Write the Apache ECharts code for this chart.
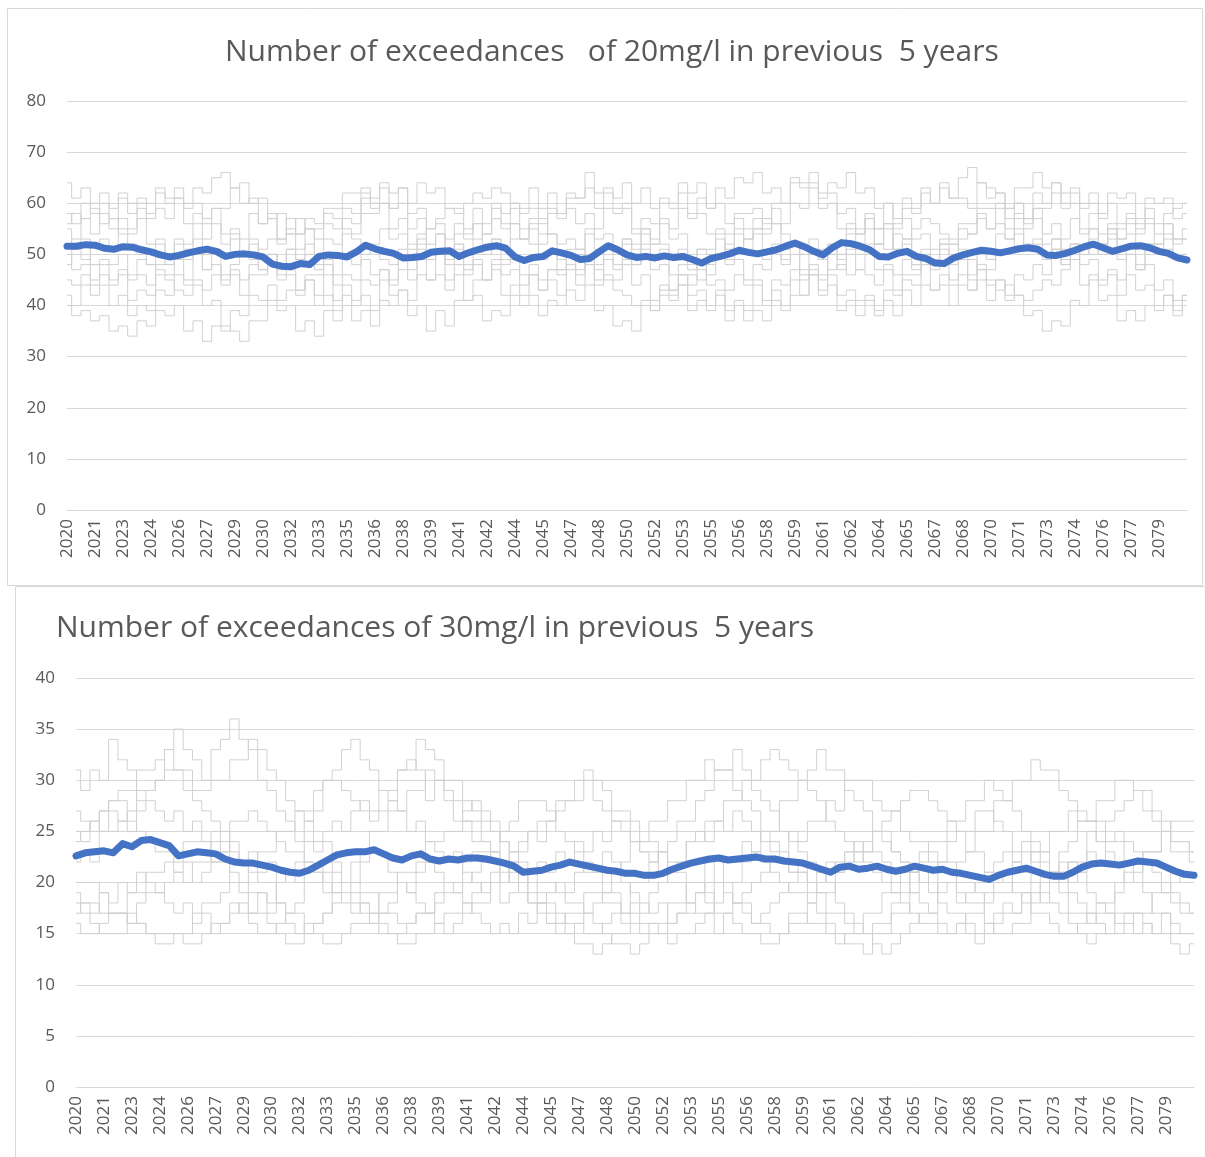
<!DOCTYPE html>
<html>
<head>
<meta charset="utf-8">
<script src="https://cdn.jsdelivr.net/npm/echarts@6/dist/echarts.min.js"></script>
<style>
html,body{margin:0;padding:0;background:#fff;}
#chart{width:1205px;height:1157px;}
</style>
</head>
<body>
<div id="chart"></div>
<script>
// ---------- tick labels (shared by both panels) ----------
const yearTicks = ['2020','2021','2023','2024','2026','2027','2029','2030','2032','2033','2035','2036','2038','2039','2041','2042','2044','2045','2047','2048','2050','2052','2053','2055','2056','2058','2059','2061','2062','2064','2065','2067','2068','2070','2071','2073','2074','2076','2077','2079'];
const pointsPerTick = 3;

// ---------- top panel: exceedances of 20mg/l ----------
const title20 = 'Number of exceedances   of 20mg/l in previous  5 years';
const mean20 = [51.6,51.6,51.9,51.8,51.2,51.0,51.5,51.4,50.9,50.5, 49.9,49.5,49.8,50.3,50.7,51.0,50.6,49.6,50.0,50.1, 49.9,49.5,48.1,47.7,47.6,48.2,48.0,49.6,49.9,49.8, 49.5,50.5,51.8,51.1,50.6,50.2,49.3,49.4,49.6,50.4, 50.6,50.7,49.6,50.3,50.9,51.4,51.7,51.2,49.5,48.8, 49.4,49.6,50.7,50.3,49.8,49.0,49.2,50.5,51.7,50.9, 49.9,49.4,49.6,49.3,49.7,49.4,49.6,49.0,48.3,49.2, 49.6,50.1,50.8,50.4,50.1,50.5,50.9,51.6,52.2,51.5, 50.6,49.9,51.3,52.3,52.1,51.6,50.9,49.6,49.5,50.2, 50.6,49.6,49.2,48.3,48.2,49.3,49.9,50.4,50.8,50.6, 50.3,50.7,51.1,51.3,51.0,49.9,49.8,50.2,50.8,51.5, 52.0,51.3,50.6,51.1,51.6,51.7,51.3,50.6,50.2,49.3, 48.9];
const run20A = [64,61,63,60,62,59,61,58,60,57, 59,57,61,60,63,62,65,66,63,64, 60,61,57,58,54,57,55,53,56,55, 59,58,62,61,63,59,60,55,57,52, 54,49,52,48,49,45,48,46,47,44, 46,43,45,42,47,44,48,45,49,48, 52,51,54,52,57,55,59,58,61,59, 63,61,65,64,66,62,63,60,65,64, 66,61,62,58,59,55,57,52,55,51, 52,48,51,47,48,45,46,43,45,41, 45,42,46,45,48,46,51,48,52,51, 55,52,56,55,58,56,59,54,56,53, 55];
const run20B = [40,38,39,37,38,35,36,34,37,36, 39,38,40,35,37,33,36,35,39,38, 42,41,44,39,40,35,37,34,39,37, 42,41,45,44,47,45,49,47,51,50, 54,53,56,54,59,56,60,58,59,55, 56,52,54,49,50,47,49,44,46,45, 48,44,46,41,43,42,44,39,41,40, 42,37,40,39,44,41,45,44,47,46, 50,49,52,50,55,54,57,55,60,57, 61,59,62,60,64,61,65,67,64,63, 62,59,60,57,59,54,56,51,52,48, 49,45,46,42,46,43,44,40,42,39, 42];
const run20C = [58,56,60,58,60,55,57,54,59,58, 62,60,61,56,58,53,56,52,53,50, 52,47,50,46,47,43,45,42,46,41, 44,40,42,39,45,44,47,45,49,45, 46,43,48,46,51,50,53,51,56,53, 57,56,59,57,62,61,63,59,62,61, 64,60,63,59,61,59,64,62,64,59, 60,56,57,53,54,49,52,48,50,45, 47,42,44,39,41,38,41,39,41,38, 43,40,44,43,46,44,49,46,50,49, 54,53,58,57,62,60,64,60,62,60, 62,57,60,56,57,54,56,52,56,52, 53];
const run20D = [45,44,46,42,44,40,42,38,40,39, 43,42,46,45,50,47,51,50,54,53, 58,56,58,53,57,54,55,50,53,52, 57,56,61,60,64,62,63,58,59,55, 56,51,52,47,48,45,47,42,44,40, 42,38,41,40,43,41,44,39,40,36, 37,35,40,39,44,43,46,44,49,46, 50,49,54,51,55,54,59,56,60,59, 63,62,64,63,66,62,63,59,60,56, 57,53,54,51,52,48,49,45,48,44, 45,41,42,38,39,35,37,36,41,40, 45,44,47,45,50,47,51,50,53,49, 50];
const run20E = [52,53,57,54,58,57,62,60,61,60, 63,61,63,59,60,57,59,54,55,50, 53,49,50,45,46,43,45,40,42,39, 40,37,39,36,41,40,43,41,46,45, 50,49,54,53,56,54,59,56,60,59, 63,59,62,58,59,56,58,53,54,51, 53,48,51,47,48,43,46,42,43,39, 43,39,41,37,39,37,41,40,45,42, 46,45,50,47,51,50,55,52,56,55, 59,58,63,60,63,61,61,59,64,61, 62,57,60,56,57,52,53,48,49,44, 46,41,42,37,39,37,40,39,42,38, 41];
const run20F = [48,51,49,52,53,51,55,55,57,52, 53,48,49,44,45,40,41,36,35,33, 37,37,41,41,43,42,46,46,50,50, 54,54,58,58,60,59,63,60,64,62, 63,59,59,55,56,52,53,48,49,46, 48,45,47,46,50,50,54,51,52,47, 49,48,52,52,56,53,54,49,51,50, 54,54,58,58,59,55,56,51,52,47, 48,43,46,42,43,41,42,38,43,42, 46,46,48,43,44,40,44,43,47,47, 51,51,55,55,59,59,62,62,63,59, 60,58,62,61,62,57,61,60,61,57, 58];
const run20G = [55,52,53,48,49,45,46,41,43,42, 46,46,50,49,53,50,51,46,47,42, 46,46,48,47,51,51,55,55,59,59, 62,62,63,59,60,55,57,52,54,49, 50,45,46,41,42,37,39,38,42,42, 46,43,47,47,51,51,55,55,59,59, 60,55,57,56,60,60,62,57,58,54, 55,51,55,55,57,56,60,60,64,63, 64,59,60,55,56,51,52,47,48,43, 45,44,48,48,52,52,56,56,59,59, 60,55,57,52,53,49,53,53,57,54, 55,50,53,49,50,48,52,52,54,53, 53];
const run20H = [42,40,44,44,48,48,50,45,46,44, 48,48,52,52,56,56,59,59,63,60, 61,56,57,53,54,49,52,48,49,44, 46,45,49,46,47,42,43,38,40,35, 39,36,41,41,45,45,49,49,53,53, 55,54,58,58,61,61,66,62,63,58, 59,54,55,50,51,46,48,47,51,51, 53,48,49,44,45,40,43,39,42,42, 46,46,50,50,54,54,58,55,56,51, 53,48,50,49,53,53,55,54,58,55, 59,59,63,63,66,63,64,59,60,55, 58,54,55,50,52,47,48,43,45,41, 42];
const run20I = [50,47,48,45,46,44,47,46,49,48, 52,50,53,51,50,47,48,44,46,45, 48,47,50,48,51,49,50,47,48,46, 49,48,51,52,55,53,54,51,52,49, 50,48,51,50,53,54,57,55,56,53, 52,49,50,47,48,46,49,48,51,50, 53,52,55,53,52,50,51,48,47,44, 45,43,46,45,48,47,50,49,52,50, 53,51,52,49,50,47,46,44,47,46, 49,47,50,48,51,50,53,54,57,55, 56,53,54,51,52,50,51,49,52,50, 53,52,55,53,54,51,52,50,51,49, 50];
const run20J = [56,58,57,59,56,57,54,52,50,48, 47,45,43,42,44,43,46,45,48,50, 49,51,53,52,55,54,57,56,58,57, 55,53,50,51,49,48,51,50,53,55, 57,59,58,60,62,61,63,62,60,58, 59,57,54,52,53,51,48,47,45,43, 42,40,41,39,42,41,44,46,45,48, 50,52,51,53,55,57,56,54,52,50, 51,49,47,48,46,47,50,52,51,54, 53,55,57,56,54,52,51,49,47,45, 43,44,42,41,43,45,44,47,49,51, 50,52,54,53,56,55,57,56,58,59, 60];

// ---------- bottom panel: exceedances of 30mg/l ----------
const title30 = 'Number of exceedances of 30mg/l in previous  5 years';
const mean30 = [22.6,22.9,23.0,23.1,22.9,23.8,23.5,24.1,24.2,23.9, 23.6,22.6,22.8,23.0,22.9,22.8,22.3,22.0,21.9,21.9, 21.7,21.5,21.2,21.0,20.9,21.2,21.7,22.2,22.7,22.9, 23.0,23.0,23.2,22.8,22.4,22.2,22.6,22.8,22.3,22.1, 22.3,22.2,22.4,22.4,22.3,22.1,21.9,21.6,21.0,21.1, 21.2,21.5,21.7,22.0,21.8,21.6,21.4,21.2,21.1,20.9, 20.9,20.7,20.7,20.9,21.3,21.6,21.9,22.1,22.3,22.4, 22.2,22.3,22.4,22.5,22.3,22.3,22.1,22.0,21.9,21.6, 21.3,21.0,21.5,21.6,21.3,21.4,21.6,21.3,21.1,21.3, 21.6,21.4,21.2,21.3,21.0,20.9,20.7,20.5,20.3,20.7, 21.0,21.2,21.4,21.1,20.8,20.6,20.6,21.0,21.5,21.8, 21.9,21.8,21.7,21.9,22.1,22.0,21.9,21.5,21.1,20.8, 20.7];
const run30A = [31,29,31,30,34,32,31,28,29,30, 33,35,33,32,30,33,34,36,34,33, 30,29,27,26,24,26,27,30,31,33, 34,32,31,29,29,31,32,31,28,30, 28,26,26,24,24,22,22,20,20,18, 18,16,16,17,17,19,19,18,18,16, 16,15,16,16,18,18,20,20,22,20, 20,18,18,16,16,15,15,17,17,16, 16,15,14,15,15,17,17,19,19,21, 21,23,23,22,22,20,20,19,18,19, 19,21,21,23,23,25,25,27,27,26, 26,24,24,22,22,20,20,19,18,17, 17];
const run30B = [27,26,25,27,28,28,26,25,24,23, 23,21,22,20,21,22,23,21,20,19, 19,17,18,16,15,16,16,17,18,20, 20,22,23,23,21,20,19,18,17,16, 15,16,17,18,18,21,20,22,23,25, 24,26,27,28,28,30,28,27,26,26, 24,23,23,21,20,20,18,17,17,15, 17,18,19,20,21,22,22,25,24,26, 26,28,27,30,30,30,28,27,27,25, 24,24,22,21,21,19,18,18,16,15, 15,16,16,19,18,20,21,22,22,25, 24,26,27,28,29,29,27,26,24,24, 23];
const run30C = [18,17,16,15,15,15,17,16,15,15, 15,15,14,14,15,16,16,18,17,16, 15,15,16,17,18,20,20,22,21,20, 19,18,17,16,15,15,16,17,17,19, 20,20,22,23,23,23,22,21,20,19, 18,17,16,15,14,14,13,14,15,15, 17,17,19,20,22,22,24,24,26,26, 28,28,30,30,32,33,32,31,30,29, 28,26,25,24,23,22,21,20,19,18, 17,16,16,15,15,16,17,17,19,20, 20,22,21,20,19,18,17,16,15,14, 15,15,17,17,17,16,15,15,14,13, 14];
const run30D = [22,23,22,25,25,26,27,29,29,30, 31,31,31,29,29,30,30,32,32,34, 33,31,30,28,27,26,24,24,22,20, 20,19,19,17,17,16,16,17,17,18, 19,19,20,21,22,23,25,26,28,28, 28,27,25,24,23,21,21,19,19,17, 18,16,16,15,14,15,15,16,17,18, 20,20,22,23,25,25,28,28,30,31, 33,31,31,29,28,27,25,25,23,22, 21,20,19,18,17,17,16,15,15,16, 17,17,19,20,20,21,23,24,26,26, 28,28,30,30,29,27,26,25,23,23, 22];
const run30E = [20,20,20,19,17,17,16,16,15,14, 14,15,15,17,18,18,19,20,20,22, 23,23,25,25,27,27,29,30,30,29, 28,27,26,27,28,31,31,34,33,32, 30,30,28,27,26,25,24,22,21,20, 19,18,17,16,16,15,15,16,17,17, 20,20,22,23,24,26,26,28,29,31, 31,33,31,29,28,27,25,24,23,22, 21,20,18,17,16,15,14,13,14,15, 16,17,17,20,20,22,23,25,25,28, 28,30,30,32,31,31,29,28,26,26, 24,23,22,20,20,19,17,17,15,15, 15];
const run30F = [16,15,15,16,17,17,19,19,21,21, 22,22,24,24,24,22,22,20,19,17, 17,16,15,14,14,15,16,17,19,20, 22,23,25,25,27,27,29,29,31,30, 29,28,26,26,24,23,21,20,19,18, 17,16,15,15,16,17,18,19,21,22, 24,24,26,26,28,28,30,30,32,31, 31,29,28,27,25,24,23,21,21,20, 19,17,17,16,15,15,16,16,18,19, 21,22,24,24,26,26,28,28,30,29, 28,27,25,24,23,21,21,19,18,17, 16,15,15,16,17,17,19,19,21,20, 20];
const run30G = [24,25,26,27,28,29,29,31,31,32, 33,31,29,28,27,26,25,23,22,21, 20,20,18,17,17,15,15,14,14,15, 16,16,17,19,19,21,21,22,24,24, 25,25,27,28,27,26,24,23,22,21, 20,20,19,18,18,17,16,15,14,14, 13,14,15,15,16,17,17,19,20,20, 22,22,24,23,22,21,20,19,19,18, 17,16,15,14,14,13,15,15,17,17, 19,20,21,22,24,25,25,27,27,26, 25,23,23,22,20,20,19,17,17,16, 17,17,19,20,21,23,23,25,24,24, 23];
const run30H = [19,18,18,17,17,17,16,18,19,19, 20,21,20,22,22,24,24,26,26,27, 26,25,24,23,23,22,21,21,19,19, 18,17,16,15,15,14,14,15,15,16, 17,17,18,19,20,20,22,23,24,25, 26,26,28,28,30,31,30,29,27,27, 26,24,24,23,21,21,20,20,19,17, 17,16,15,15,14,14,15,16,16,18, 19,19,21,22,23,23,25,26,27,28, 29,29,28,27,26,25,23,23,21,21, 20,19,18,17,17,16,15,15,16,17, 18,18,20,21,22,23,23,25,26,26, 26];
const run30I = [25,24,26,25,27,26,25,27,28,27, 26,27,25,26,24,25,23,24,22,23, 21,22,20,21,22,24,23,25,26,25, 27,28,27,29,28,27,25,26,24,23, 22,23,21,20,19,20,18,19,20,21, 22,21,23,22,24,23,25,24,26,25, 24,23,22,23,21,22,24,25,24,26, 25,27,26,25,24,23,22,21,22,20, 21,22,21,23,24,23,25,24,23,22, 21,20,21,19,20,18,19,20,21,22, 23,22,24,23,22,21,22,20,21,23, 22,24,25,24,23,22,21,20,19,18, 17];
const run30J = [17,18,17,19,18,20,19,21,20,19, 18,17,18,16,17,15,16,17,18,17, 19,18,20,21,20,22,21,19,20,18, 17,18,16,17,18,20,19,21,22,21, 20,19,18,17,16,15,16,15,17,16, 18,19,20,19,21,22,21,23,22,20, 19,18,17,18,16,17,18,19,18,20, 19,18,17,16,17,18,19,20,21,19, 20,21,22,23,22,24,23,22,20,21, 19,18,17,16,15,16,15,14,16,17, 18,17,19,18,20,21,20,22,21,19, 18,17,16,17,15,16,15,17,16,15, 15];

// ---------- build ----------
const categories = [];
yearTicks.forEach(y => { categories.push(y); for (let k = 1; k < pointsPerTick; k++) categories.push(''); });
categories.push('');

const FONT = '"Open Sans", "Noto Sans", sans-serif';
const TXT = '#595959';
const GRID = '#d9d9d9';
const GRAY = '#d0d0d0';
const BLUE = '#4472C4';

function grayLine(data, idx) {
  return { type: 'line', data: data, xAxisIndex: idx, yAxisIndex: idx, showSymbol: false, step: 'middle',
    lineStyle: { color: GRAY, width: 1 }, itemStyle: { color: GRAY }, z: 2, silent: true };
}
function meanLine(data, idx) {
  return { type: 'line', data: data, xAxisIndex: idx, yAxisIndex: idx, showSymbol: false, smooth: false,
    lineStyle: { color: BLUE, width: 7, cap: 'round', join: 'round' }, itemStyle: { color: BLUE }, z: 5, silent: true };
}
function xAxis(idx) {
  return { type: 'category', gridIndex: idx, data: categories, boundaryGap: false,
    axisLine: { show: true, lineStyle: { color: GRID, width: 1 } }, axisTick: { show: false },
    axisLabel: { interval: 0, rotate: 90, color: TXT, fontSize: 17, fontFamily: FONT, margin: 9 },
    splitLine: { show: false } };
}
function yAxis(idx, max, step, margin) {
  return { type: 'value', gridIndex: idx, min: 0, max: max, interval: step,
    axisLine: { show: false }, axisTick: { show: false },
    axisLabel: { color: TXT, fontSize: 17, fontFamily: FONT, margin: margin },
    splitLine: { lineStyle: { color: GRID, width: 1 } } };
}

const chart = echarts.init(document.getElementById('chart'), null, { renderer: 'canvas' });
chart.setOption({
  animation: false,
  backgroundColor: '#fff',
  title: [
    { text: title20, left: 220, top: 32, textStyle: { color: TXT, fontSize: 30, fontWeight: 'normal', fontFamily: FONT } },
    { text: title30, left: 51, top: 608, textStyle: { color: TXT, fontSize: 30, fontWeight: 'normal', fontFamily: FONT } }
  ],
  grid: [
    { left: 67, right: 18, top: 101, height: 409 },
    { left: 76, right: 11, top: 678, height: 409 }
  ],
  xAxis: [xAxis(0), xAxis(1)],
  yAxis: [yAxis(0, 80, 10, 21), yAxis(1, 40, 5, 21)],
  graphic: [
    { type: 'rect', shape: { x: 7.5, y: 8.5, width: 1195, height: 577 }, style: { fill: 'none', stroke: GRID, lineWidth: 1 }, silent: true },
    { type: 'polyline', shape: { points: [[15.5, 1170], [15.5, 586.5], [1210, 586.5]] }, style: { fill: 'none', stroke: GRID, lineWidth: 1 }, silent: true }
  ],
  series: [
    grayLine(run20A, 0), grayLine(run20B, 0), grayLine(run20C, 0), grayLine(run20D, 0), grayLine(run20E, 0),
    grayLine(run20F, 0), grayLine(run20G, 0), grayLine(run20H, 0), grayLine(run20I, 0), grayLine(run20J, 0),
    meanLine(mean20, 0),
    grayLine(run30A, 1), grayLine(run30B, 1), grayLine(run30C, 1), grayLine(run30D, 1), grayLine(run30E, 1),
    grayLine(run30F, 1), grayLine(run30G, 1), grayLine(run30H, 1), grayLine(run30I, 1), grayLine(run30J, 1),
    meanLine(mean30, 1)
  ]
});
</script>
</body>
</html>
